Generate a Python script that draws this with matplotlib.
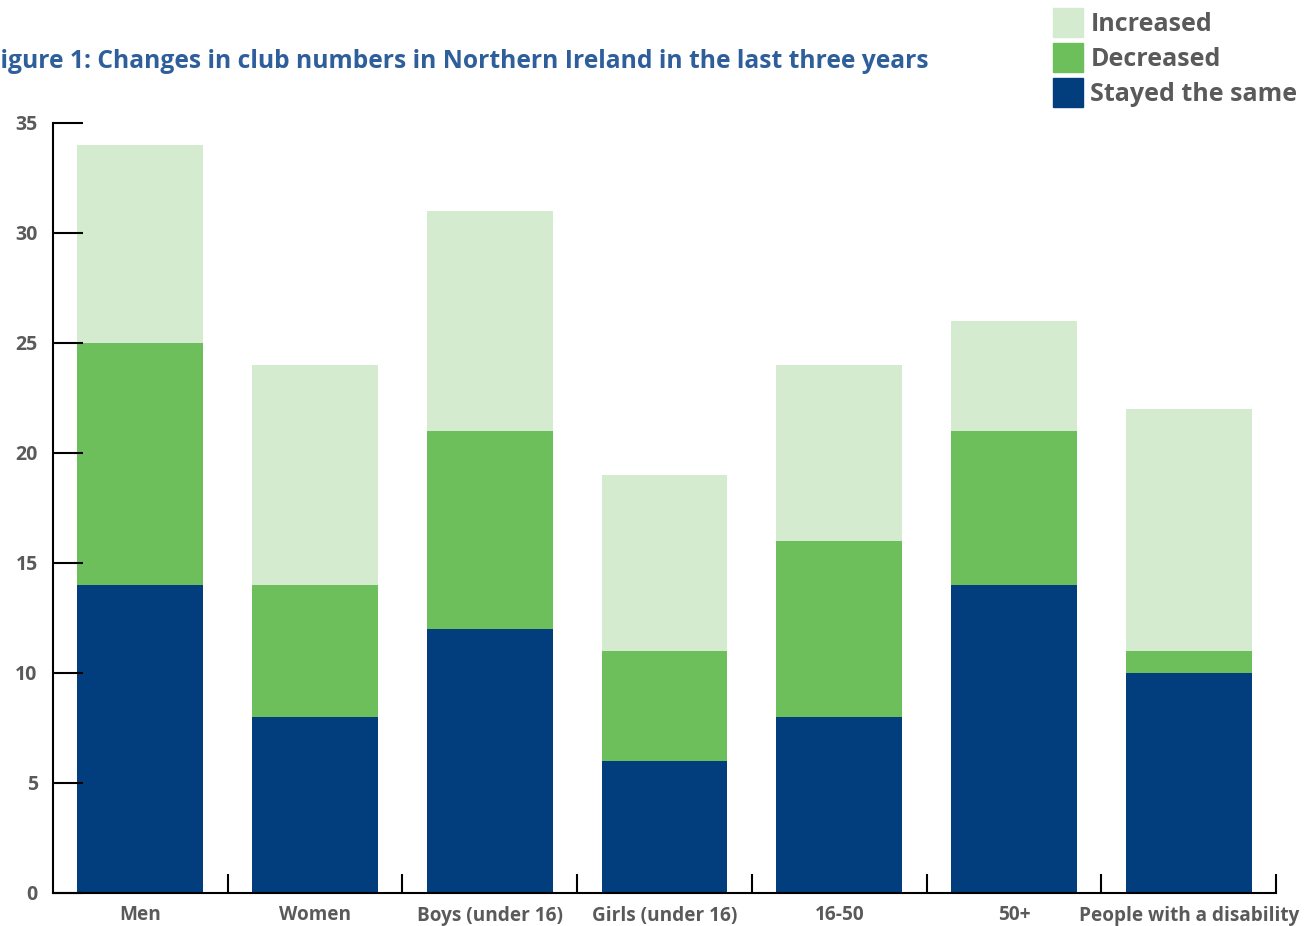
import matplotlib.pyplot as plt
import numpy as np
from matplotlib.patches import Patch

# Data
categories = ['Men', 'Women', 'Boys (under 16)', 'Girls (under 16)', '16-50', '50+', 'People with a disability']
stayed = [14, 8, 12, 6, 8, 14, 10]
decreased = [11, 6, 9, 5, 8, 7, 1]
increased = [9, 10, 10, 8, 8, 5, 11]
yticks = [0, 5, 10, 15, 20, 25, 30, 35]

# Colours
C_INC = '#d4ebcf'
C_DEC = '#6dbf5c'
C_SAME = '#023e7d'
C_TEXT = '#5a5a5a'
C_TITLE = '#2f5f9b'

plt.rcParams['font.family'] = ['Open Sans', 'DejaVu Sans']

fig = plt.figure(figsize=(13.1, 9.26), dpi=100)
ax = fig.add_axes([53 / 1310, 33 / 926, 1223 / 1310, 770 / 926])

x = np.arange(len(categories))
bw = 0.72
ax.bar(x, stayed, width=bw, color=C_SAME, label='Stayed the same')
ax.bar(x, decreased, width=bw, bottom=stayed, color=C_DEC, label='Decreased')
bottom2 = np.array(stayed) + np.array(decreased)
ax.bar(x, increased, width=bw, bottom=bottom2, color=C_INC, label='Increased')

ax.set_xlim(-0.5, len(categories) - 0.5)
ax.set_ylim(0, 35)
ax.set_yticks(yticks)
ax.set_xticks(x)
ax.set_xticklabels(categories)
ax.set_xticks(np.arange(len(categories)) + 0.5, minor=True)

ax.tick_params(axis='y', direction='in', length=21.6, width=1.5, color='black',
               labelsize=14, labelcolor=C_TEXT, pad=11)
ax.tick_params(axis='x', which='major', length=0, labelsize=13.7, labelcolor=C_TEXT, pad=9)
ax.tick_params(axis='x', which='minor', direction='in', length=14, width=1.5, color='black')
for lbl in ax.get_xticklabels() + ax.get_yticklabels():
    lbl.set_fontweight('bold')

for side in ['top', 'right']:
    ax.spines[side].set_visible(False)
for side in ['left', 'bottom']:
    ax.spines[side].set_linewidth(1.5)

# title is cropped at the left edge in the original
fig.text(-13, 926 - 61, 'Figure 1: Changes in club numbers in Northern Ireland in the last three years',
         transform=None, fontsize=17.7, fontweight='bold', color=C_TITLE, va='center', ha='left')

handles = [Patch(color=C_INC), Patch(color=C_DEC), Patch(color=C_SAME)]
leg = fig.legend(handles, ['Increased', 'Decreased', 'Stayed the same'],
                 loc='upper left', bbox_to_anchor=(1053 / 1310, 1 - 8 / 926),
                 frameon=False, fontsize=18, handlelength=1.2, handleheight=1.4,
                 labelspacing=0.25, handletextpad=0.3, borderpad=0, borderaxespad=0)
for t in leg.get_texts():
    t.set_color(C_TEXT)
    t.set_fontweight('bold')

fig.savefig('out.png', dpi=100)
